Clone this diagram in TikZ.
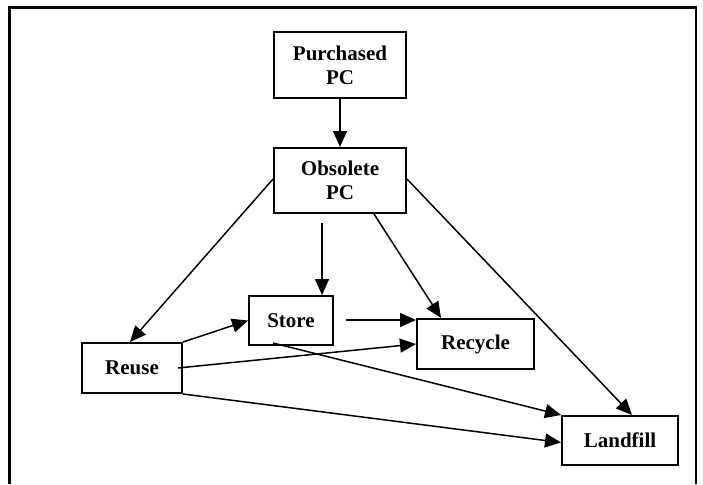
\documentclass[tikz,border=0pt]{standalone}
\usepackage{fontspec}
\setmainfont{Liberation Serif}
\usetikzlibrary{arrows.meta}
\begin{document}
\begin{tikzpicture}[x=1pt,y=-1pt,
  box/.style={draw, line width=2pt, rectangle, inner sep=0pt, align=center,
    font=\fontsize{21}{24}\selectfont\bfseries},
  arr/.style={line width=1.5pt, -{Triangle[length=16pt,width=14pt]}},
  frame/.style={line width=2.5pt}]
\useasboundingbox (0,0) rectangle (703,484);
\draw[frame] (9.5,484) -- (9.5,7.5) -- (696,7.5) -- (696,484);
\node[box, minimum width=132pt, minimum height=66pt] (purch) at (340,65) {Purchased\\PC};
\node[box, minimum width=132pt, minimum height=65pt] (obs) at (340,180.5) {Obsolete\\PC};
\node[box, minimum width=84pt, minimum height=49pt] (store) at (291,320.5) {Store};
\node[box, minimum width=117pt, minimum height=50pt] (recycle) at (475.5,344) {Recycle};
\node[box, minimum width=100pt, minimum height=50pt] (reuse) at (132,368) {Reuse};
\node[box, minimum width=116pt, minimum height=49pt] (landfill) at (620,440.5) {Landfill};
\coordinate (os1) at (322,223);
\coordinate (sr) at (346,320);
\coordinate (rr) at (178,368);
\coordinate (st) at (273,343);
\draw[arr] (purch.south) -- (obs.north);
\draw[arr] ([yshift=1.5pt]obs.west) -- ([xshift=-2pt]reuse.north);
\draw[arr] (os1) -- (os1 |- store.north);
\draw[arr] ([xshift=34pt]obs.south) -- ([xshift=-34.5pt]recycle.north);
\draw[arr] ([yshift=1.5pt]obs.east) -- ([xshift=12pt]landfill.north);
\draw[arr] (sr) -- (sr -| recycle.west);
\draw[arr] (reuse.north east) -- (store.west);
\draw[arr] (rr) -- (recycle.west);
\draw[arr] (st) -- (landfill.north west);
\draw[arr] (reuse.south east) -- ([yshift=-2pt]landfill.west);
\end{tikzpicture}
\end{document}
